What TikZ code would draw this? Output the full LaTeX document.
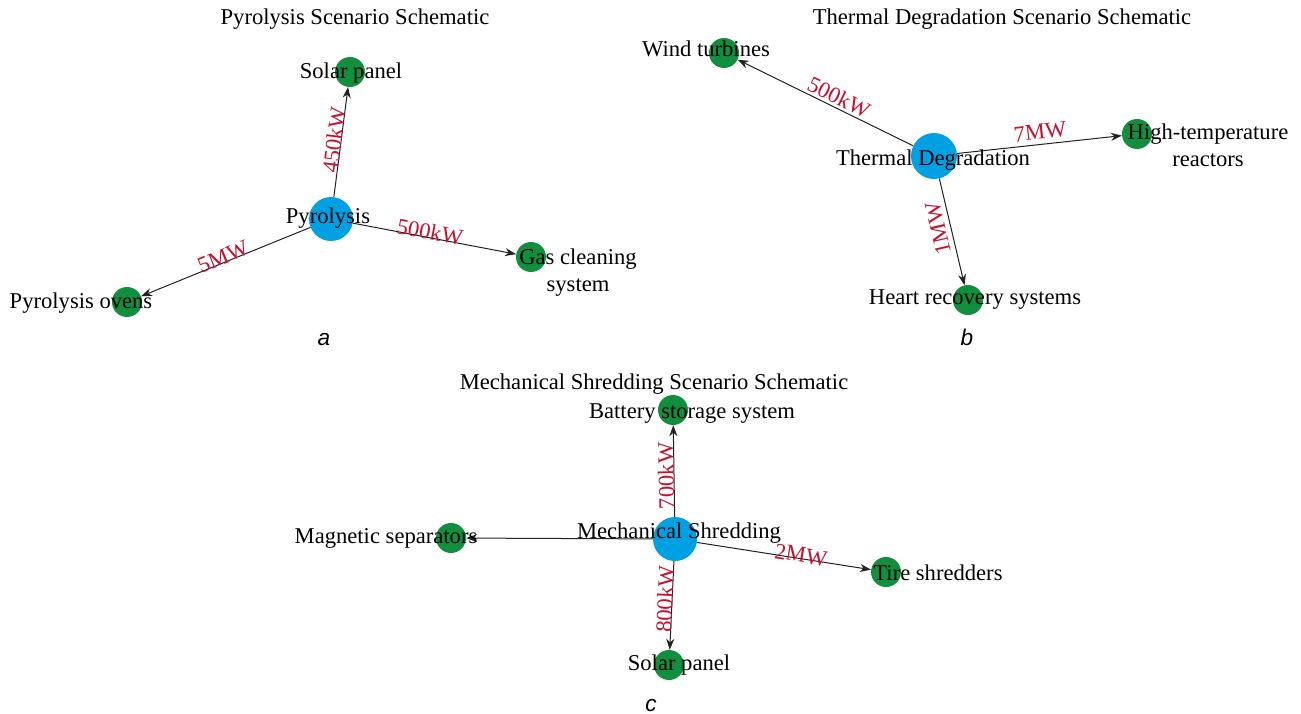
\documentclass[tikz,border=0pt]{standalone}
\usepackage{fontspec}
\setmainfont{Liberation Serif}
\newfontfamily\lblfont{Liberation Sans}
\usetikzlibrary{arrows.meta}
\definecolor{hubblue}{HTML}{00A0E3}
\definecolor{leafgreen}{HTML}{118F3C}
\definecolor{wred}{HTML}{C8102E}
\definecolor{edgegray}{HTML}{222222}
\begin{document}
\begin{tikzpicture}[x=1pt,y=-1pt,
 hub/.style={circle,fill=hubblue,draw=none,minimum size=44pt,inner sep=0pt},
 leaf/.style={circle,fill=leafgreen,draw=none,minimum size=30pt,inner sep=0pt},
 txt/.style={font=\fontsize{22.6}{27}\selectfont,inner sep=0pt,anchor=base,align=center},
 elab/.style={font=\fontsize{22.6}{27}\selectfont,text=wred,inner sep=0pt,anchor=center},
 flow/.style={draw=edgegray,line width=1pt,-{Stealth[length=11pt,width=8pt]}},
 panel/.style={font=\lblfont\itshape\fontsize{22.6}{27}\selectfont,inner sep=0pt,anchor=base}]
\useasboundingbox (0,0) rectangle (1301,714);
\fill[white] (0,0) rectangle (1301,714);

% ---------- panel a ----------
\node[hub] (P) at (331,219) {};
\node[leaf] (aS) at (350,72) {};
\node[leaf] (aG) at (531,257) {};
\node[leaf] (aO) at (127,302) {};
% ---------- panel b ----------
\node[hub,minimum size=46pt] (T) at (934,156) {};
\node[leaf] (bW) at (724,53) {};
\node[leaf] (bH) at (1137,134) {};
\node[leaf] (bR) at (968,300) {};
% ---------- panel c ----------
\node[hub] (M) at (675,539) {};
\node[leaf] (cB) at (673,410) {};
\node[leaf] (cMs) at (451,538) {};
\node[leaf] (cT) at (886,572) {};
\node[leaf] (cS) at (669,665) {};

% edges
\draw[flow] (P) -- (aS);
\draw[flow] (P) -- (aG);
\draw[flow] (P) -- (aO);
\draw[flow] (T) -- (bW);
\draw[flow] (T) -- (bH);
\draw[flow] (T) -- (bR);
\draw[flow] (M) -- (cB);
\draw[flow] (M) -- (cMs);
\draw[flow] (M) -- (cT);
\draw[flow] (M) -- (cS);

% titles
\node[txt] (ta) at (355,25) {Pyrolysis Scenario Schematic};
\node[txt] (tb) at (1002,25) {Thermal Degradation Scenario Schematic};
\node[txt] (tc) at (654,389) {Mechanical Shredding Scenario Schematic};

% node texts
\node[txt] (lP) at (328,223) {Pyrolysis};
\node[txt] (laS) at (351,79) {Solar panel};
\node[txt] (laG) at (578,291) {Gas cleaning\\system};
\node[txt] (laO) at (81,308) {Pyrolysis ovens};
\node[txt] (lT) at (933,166) {Thermal Degradation};
\node[txt] (lbW) at (706,57) {Wind turbines};
\node[txt] (lbH) at (1208,167) {High-temperature\\reactors};
\node[txt] (lbR) at (975,304) {Heart recovery systems};
\node[txt] (lM) at (679,538) {Mechanical Shredding};
\node[txt] (lcB) at (692,418) {Battery storage system};
\node[txt] (lcMs) at (386,543) {Magnetic separators};
\node[txt] (lcT) at (938,580) {Tire shredders};
\node[txt] (lcS) at (679,670) {Solar panel};

% edge labels
\node[elab,rotate=82.6] (e1) at (334,140) {450kW};
\node[elab,rotate=-10.8] (e2) at (430,232) {500kW};
\node[elab,rotate=22.1] (e3) at (223,257) {5MW};
\node[elab,rotate=-26.1] (e4) at (839,97) {500kW};
\node[elab,rotate=6.2] (e5) at (1040,132) {7MW};
\node[elab,rotate=103] (e6) at (938,228) {1MW};
\node[elab,rotate=91] (e7) at (666,476) {700kW};
\node[elab,rotate=87.3] (e8) at (665,599) {800kW};
\node[elab,rotate=-8.9] (e9) at (801,555) {2MW};

% panel letters
\node[panel] (pa) at (324,345) {a};
\node[panel] (pb) at (967,345) {b};
\node[panel] (pc) at (651,711) {c};
\end{tikzpicture}
\end{document}
